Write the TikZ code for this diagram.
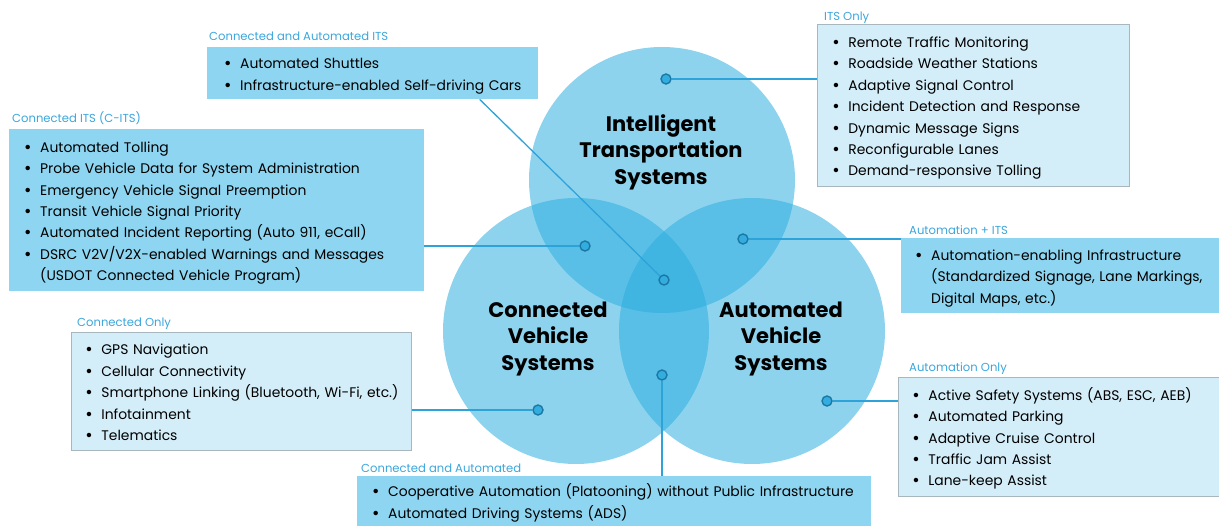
\documentclass[tikz,border=0pt]{standalone}
\usepackage{fontspec}
\setmainfont{Poppins}
\usetikzlibrary{positioning}

\definecolor{venn}{RGB}{42,173,223}
\definecolor{boxdark}{RGB}{141,213,240}
\definecolor{boxlight}{RGB}{212,238,249}
\definecolor{boxline}{RGB}{168,182,190}
\definecolor{ttlblue}{RGB}{58,166,220}
\definecolor{linkblue}{RGB}{46,163,218}
\definecolor{dotfill}{RGB}{51,173,224}
\definecolor{dotline}{RGB}{27,120,163}

\newcommand{\blist}[1]{\raisebox{-2pt}[\height][\depth]{\begin{tabular}{@{}l@{}l@{}}#1\end{tabular}}}
\newcommand{\bl}{\makebox[16pt][l]{\raisebox{-1pt}{\fontsize{18}{18}\selectfont\textbullet}}}

\tikzset{
  vennc/.style={circle, minimum size=266pt, inner sep=0pt, fill=venn, fill opacity=0.535},
  vlabel/.style={align=center, font=\fontsize{21}{26.5}\selectfont\bfseries},
  darkbox/.style={anchor=north west, fill=boxdark, inner ysep=0pt,
    font=\fontsize{13.9}{21.4}\selectfont},
  lightbox/.style={darkbox, fill=boxlight, draw=boxline, line width=0.8pt},
  ttl/.style={anchor=base west, inner sep=0pt, text=ttlblue,
    font=\fontsize{11.6}{13}\selectfont},
  dot/.style={circle, minimum size=10pt, inner sep=0pt, fill=dotfill,
    draw=dotline, line width=1.4pt},
  link/.style={draw=linkblue, line width=1.3pt},
}

\begin{document}
\begin{tikzpicture}[x=1pt, y=-1pt]
  \useasboundingbox (0,0) rectangle (1219,526);

  % the three circles
  \node (its) [vennc] at (662,180) {};
  \node (cvs) [vennc] at (576,331) {};
  \node (avs) [vennc] at (752,331) {};
  \node (its-l) [vlabel] at (661,152) {Intelligent\\Transportation\\Systems};
  \node (cvs-l) [vlabel] at (548,339) {Connected\\Vehicle\\Systems};
  \node (avs-l) [vlabel] at (781,339) {Automated\\Vehicle\\Systems};

  % lists
  \node (cai) [darkbox, minimum width=331pt, minimum height=52pt, inner xsep=17pt, text width=297pt] at (207,47)
    {\blist{\bl & Automated Shuttles\\
            \bl & Infrastructure-enabled Self-driving Cars\\}};
  \node (cits) [darkbox, minimum width=415pt, minimum height=162pt, inner xsep=15pt, text width=385pt] at (9,129)
    {\blist{\bl & Automated Tolling\\
            \bl & Probe Vehicle Data for System Administration\\
            \bl & Emergency Vehicle Signal Preemption\\
            \bl & Transit Vehicle Signal Priority\\
            \bl & Automated Incident Reporting (Auto 911, eCall)\\
            \bl & DSRC V2V/V2X-enabled Warnings and Messages\\
                & (USDOT Connected Vehicle Program)\\}};
  \node (itso) [lightbox, minimum width=312pt, minimum height=162pt, inner xsep=15pt, text width=282pt] at (817,24)
    {\blist{\bl & Remote Traffic Monitoring\\
            \bl & Roadside Weather Stations\\
            \bl & Adaptive Signal Control\\
            \bl & Incident Detection and Response\\
            \bl & Dynamic Message Signs\\
            \bl & Reconfigurable Lanes\\
            \bl & Demand-responsive Tolling\\}};
  \node (aits) [darkbox, minimum width=318pt, minimum height=75pt, inner xsep=14pt, text width=290pt] at (901,238)
    {\blist{\bl & Automation-enabling Infrastructure\\
                & (Standardized Signage, Lane Markings,\\
                & Digital Maps, etc.)\\}};
  \node (auto) [lightbox, minimum width=321pt, minimum height=119pt, inner xsep=14pt, text width=293pt] at (898,377)
    {\blist{\bl & Active Safety Systems (ABS, ESC, AEB)\\
            \bl & Automated Parking\\
            \bl & Adaptive Cruise Control\\
            \bl & Traffic Jam Assist\\
            \bl & Lane-keep Assist\\}};
  \node (conn) [lightbox, minimum width=340pt, minimum height=118pt, inner xsep=14pt, text width=312pt] at (71,332)
    {\blist{\bl & GPS Navigation\\
            \bl & Cellular Connectivity\\
            \bl & Smartphone Linking (Bluetooth, Wi-Fi, etc.)\\
            \bl & Infotainment\\
            \bl & Telematics\\}};
  \node (ca) [darkbox, minimum width=514pt, minimum height=50pt, inner xsep=15pt, text width=484pt] at (357,476)
    {\blist{\bl & Cooperative Automation (Platooning) without Public Infrastructure\\
            \bl & Automated Driving Systems (ADS)\\}};

  % titles
  \node (cai-t) [ttl] at (209,41) {Connected and Automated ITS};
  \node (cits-t) [ttl] at (12,123) {Connected ITS (C-ITS)};
  \node (itso-t) [ttl] at (824,21) {ITS Only};
  \node (aits-t) [ttl] at (909,235) {Automation + ITS};
  \node (auto-t) [ttl] at (909,372) {Automation Only};
  \node (conn-t) [ttl] at (77,327) {Connected Only};
  \node (ca-t) [ttl] at (361,473) {Connected and Automated};

  % markers
  \node (d-its) [dot] at (666,79) {};
  \node (d-cits) [dot] at (585,246) {};
  \node (d-aits) [dot] at (743,239) {};
  \node (d-all) [dot] at (664,280) {};
  \node (d-conn) [dot] at (538,410) {};
  \node (d-auto) [dot] at (827,401) {};
  \node (d-ca) [dot] at (662,375) {};
  \coordinate (cai-foot) at ([xshift=107pt]cai.south);

  \draw [link] (d-its) -- (d-its -| itso.west);
  \draw [link] (d-cits) -- (d-cits -| cits.east);
  \draw [link] (d-aits) -- (d-aits -| aits.west);
  \draw [link] (d-all) -- (cai-foot);
  \draw [link] (d-conn) -- (d-conn -| conn.east);
  \draw [link] (d-auto) -- (d-auto -| auto.west);
  \draw [link] (d-ca) -- (d-ca |- ca.north);
\end{tikzpicture}
\end{document}
